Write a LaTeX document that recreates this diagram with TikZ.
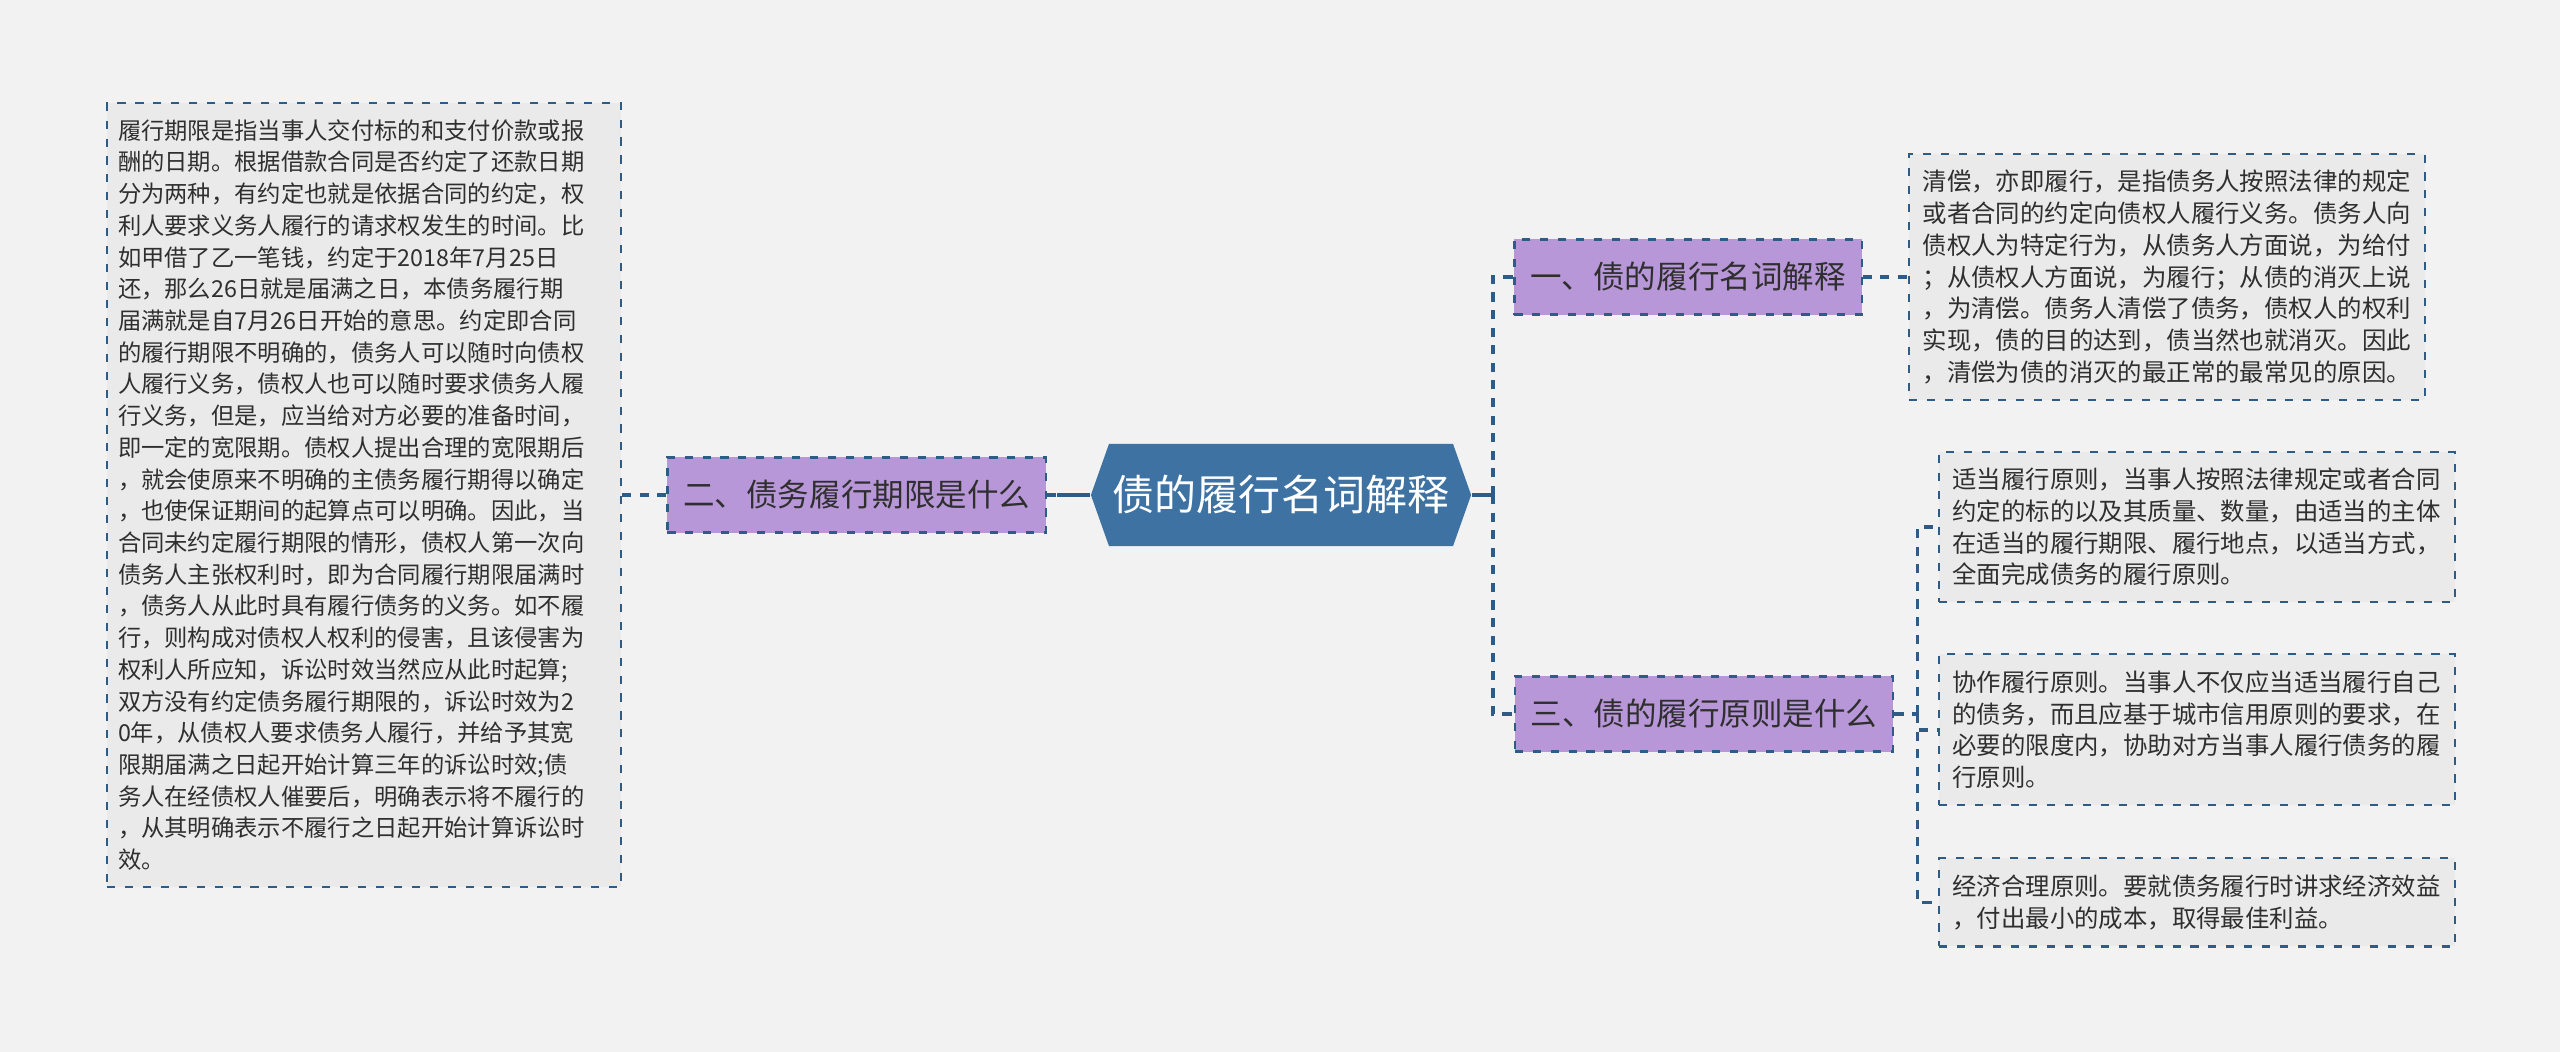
\documentclass[tikz,border=0pt]{standalone}
\usepackage{fontspec}
\setmainfont{Noto Sans CJK SC}
\usetikzlibrary{shapes.symbols, positioning}
\definecolor{bgcol}{HTML}{F2F2F2}
\definecolor{hubblue}{HTML}{3D72A3}
\definecolor{edgeblue}{HTML}{2E5C87}
\definecolor{topicpurple}{HTML}{B897D9}
\definecolor{leafgray}{HTML}{EAEAEA}
\definecolor{inkgray}{HTML}{2F2F2F}

\begin{document}
\begin{tikzpicture}[
		x=0.01cm, y=-0.01cm,
		central/.style={shape=signal, signal to=east and west, signal pointer angle=141,
			fill=hubblue, text=white, minimum width=3.8cm, minimum height=1.02cm,
			inner sep=0pt, font=\fontsize{11.95pt}{14pt}\selectfont},
		branch/.style={draw=edgeblue, line width=0.6pt, dash pattern=on 2.3pt off 2.8pt,
			fill=topicpurple, text=inkgray, minimum height=0.75cm,
			inner xsep=0.16cm, inner ysep=0pt, font=\fontsize{8.96pt}{10pt}\selectfont},
		leaf/.style={draw=edgeblue, line width=0.6pt, dash pattern=on 2.3pt off 2.8pt,
			fill=leafgray, text=inkgray, align=left, text width=4.89cm,
			inner xsep=0.13cm, inner ysep=0pt, font=\fontsize{6.94pt}{9.02pt}\selectfont},
		conn/.style={draw=edgeblue, line width=1.05pt, dash pattern=on 2.6pt off 2.4pt},
	]
		\fill[bgcol] (0,0) rectangle (2560,1052);
		\useasboundingbox (0,0) rectangle (2560,1052);

		% Central topic
		\node[central] (hub) at (1281,495) {债的履行名词解释};

		% Left branch
		\node[branch, left=0.43cm of hub] (lim) {二、债务履行期限是什么};
		\node[leaf, left=0.44cm of lim, text width=4.92cm, inner xsep=0.11cm, minimum height=7.83cm,
			font=\fontsize{6.63pt}{9.02pt}\selectfont] (limtxt)
			{履行期限是指当事人交付标的和支付价款或报\\
			酬的日期。根据借款合同是否约定了还款日期\\
			分为两种，有约定也就是依据合同的约定，权\\
			利人要求义务人履行的请求权发生的时间。比\\
			如甲借了乙一笔钱，约定于2018年7月25日\\
			还，那么26日就是届满之日，本债务履行期\\
			届满就是自7月26日开始的意思。约定即合同\\
			的履行期限不明确的，债务人可以随时向债权\\
			人履行义务，债权人也可以随时要求债务人履\\
			行义务，但是，应当给对方必要的准备时间，\\
			即一定的宽限期。债权人提出合理的宽限期后\\
			，就会使原来不明确的主债务履行期得以确定\\
			，也使保证期间的起算点可以明确。因此，当\\
			合同未约定履行期限的情形，债权人第一次向\\
			债务人主张权利时，即为合同履行期限届满时\\
			，债务人从此时具有履行债务的义务。如不履\\
			行，则构成对债权人权利的侵害，且该侵害为\\
			权利人所应知，诉讼时效当然应从此时起算;\\
			双方没有约定债务履行期限的，诉讼时效为2\\
			0年，从债权人要求债务人履行，并给予其宽\\
			限期届满之日起开始计算三年的诉讼时效;债\\
			务人在经债权人催要后，明确表示将不履行的\\
			，从其明确表示不履行之日起开始计算诉讼时\\
			效。};

		% Right branches
		\node[branch] (def) at (1688,277) {一、债的履行名词解释};
		\node[leaf, right=0.45cm of def, text width=4.88cm, inner xsep=0.14cm, minimum height=2.45cm] (deftxt)
			{清偿，亦即履行，是指债务人按照法律的规定\\
			或者合同的约定向债权人履行义务。债务人向\\
			债权人为特定行为，从债务人方面说，为给付\\
			；从债权人方面说，为履行；从债的消灭上说\\
			，为清偿。债务人清偿了债务，债权人的权利\\
			实现，债的目的达到，债当然也就消灭。因此\\
			，清偿为债的消灭的最正常的最常见的原因。};

		\node[branch] (prin) at (1704,714) {三、债的履行原则是什么};
		\node[leaf, minimum height=1.5cm] (pa) at (2197,527)
			{适当履行原则，当事人按照法律规定或者合同\\
			约定的标的以及其质量、数量，由适当的主体\\
			在适当的履行期限、履行地点，以适当方式，\\
			全面完成债务的履行原则。};
		\node[leaf, below=0.50cm of pa, minimum height=1.51cm] (pb)
			{协作履行原则。当事人不仅应当适当履行自己\\
			的债务，而且应基于城市信用原则的要求，在\\
			必要的限度内，协助对方当事人履行债务的履\\
			行原则。};
		\node[leaf, below=0.51cm of pb, minimum height=0.88cm] (pc)
			{经济合理原则。要就债务履行时讲求经济效益\\
			，付出最小的成本，取得最佳利益。};

		% Connectors
		\draw[conn] (lim.east) -- (hub.west);
		\draw[conn, solid] (hub.west) -- ++(-33,0);
		\draw[conn] (lim.west) -- (limtxt.east);

		\draw[conn, solid] (hub.east) -- ++(21,0) coordinate (fork);
		\draw[conn] (fork) |- (def.west);
		\draw[conn] (fork) |- (prin.west);
		\draw[conn] (def.east) -- (deftxt.west);

		\draw[conn] (prin.east) -- ++(23,0) coordinate (pfork);
		\draw[conn] (pfork) |- (pa.west);
		\draw[conn] (pfork) |- (pb.west);
		\draw[conn] (pfork) |- (pc.west);
	\end{tikzpicture}
\end{document}
